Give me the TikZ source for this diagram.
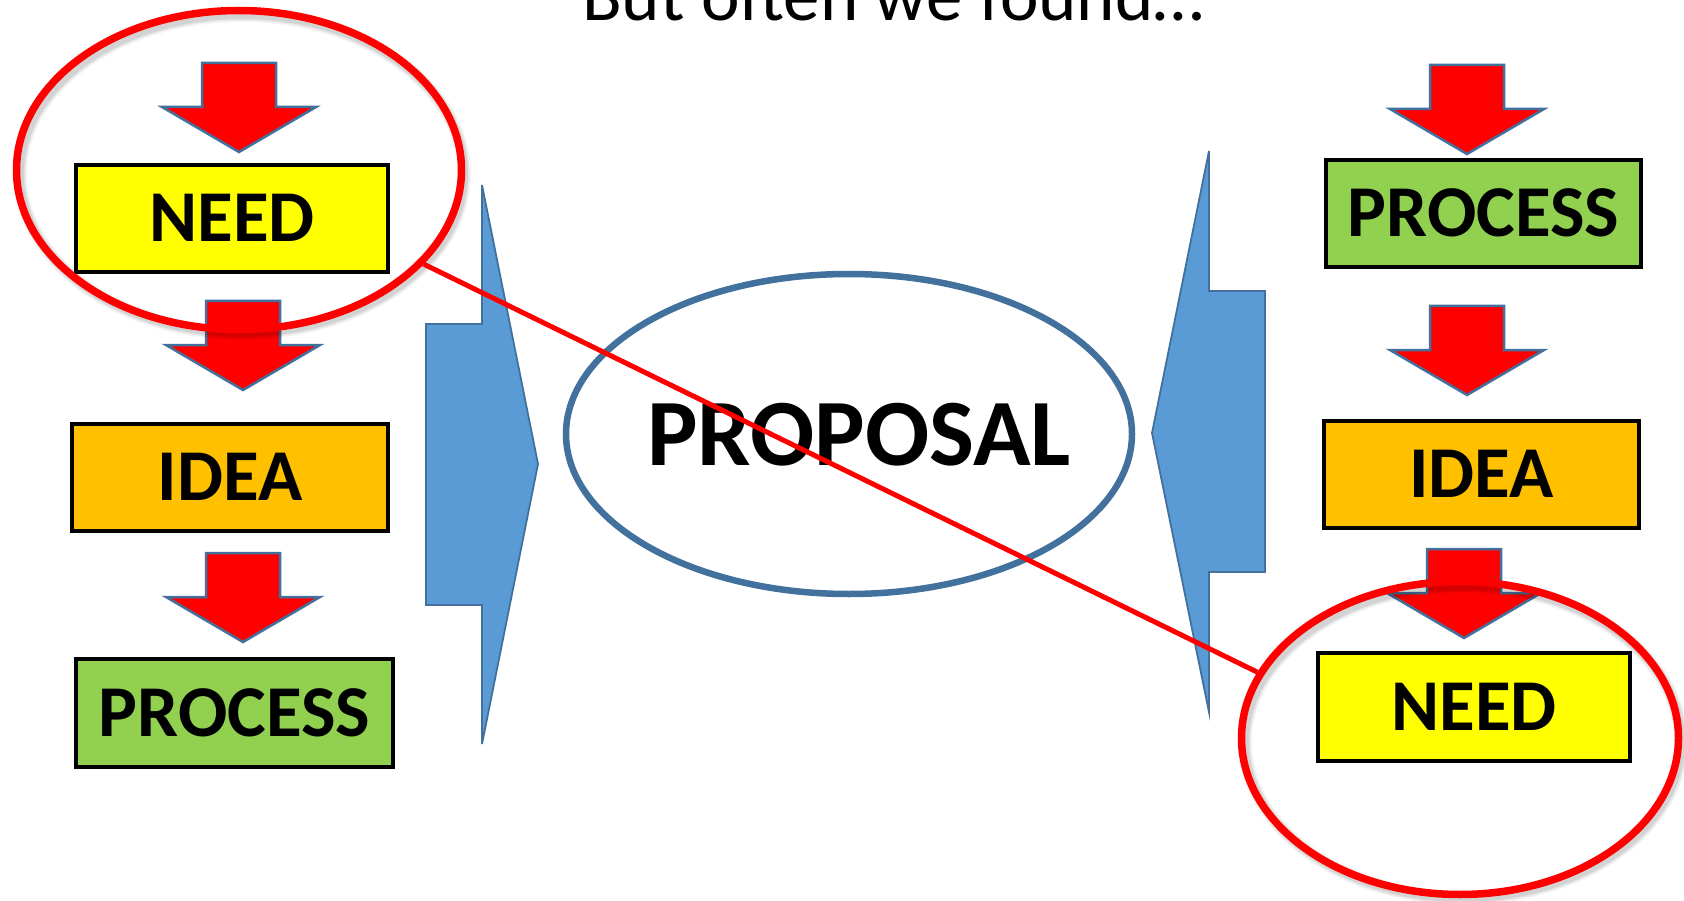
\documentclass[tikz,border=0pt]{standalone}
\usepackage{fontspec}
\setmainfont{Carlito}
\usetikzlibrary{shapes.geometric}
\definecolor{redA}{HTML}{FF0000}
\definecolor{outlineBlue}{HTML}{41719C}
\definecolor{fillBlue}{HTML}{5B9BD5}
\definecolor{yellowA}{HTML}{FFFF00}
\definecolor{orangeA}{HTML}{FFC000}
\definecolor{greenA}{HTML}{92D050}
\begin{document}
\begin{tikzpicture}[x=1pt,y=-1pt,
  labelbox/.style={draw=black, line width=4pt, rectangle, inner sep=0pt,
    font=\fontsize{73}{80}\selectfont\bfseries, text height=46pt, text depth=0pt},
  blockarrow/.style={fill=fillBlue, draw=outlineBlue, line width=1.8pt, line join=miter},
  redarrow/.style={fill=redA, draw=outlineBlue, line width=2.5pt, line join=miter},
  ring/.style={ellipse, draw=redA, line width=7.5pt, inner sep=0pt},
  ringshadow/.style={ellipse, draw=black, inner sep=0pt},
  downarr/.pic={\path[redarrow] (-37,0) -- (37,0) -- (37,44) -- (77,44) -- (0,89) -- (-77,44) -- (-37,44) -- cycle;}
]
\clip (0,0) rectangle (1684,901);
\fill[white] (0,0) rectangle (1684,901);

% title
\node[anchor=base, inner sep=0pt, font=\fontsize{73}{80}\selectfont] (title) at (893,21) {But often we found…};

% blue block arrows
\path[blockarrow] (426,324) -- (482,324) -- (482,185) -- (538,464) -- (482,744) -- (482,605) -- (426,605) -- cycle;
\path[blockarrow] (1265,291) -- (1209,291) -- (1209,151) -- (1152,433) -- (1209,712) -- (1209,572) -- (1265,572) -- cycle;

% proposal
\node[ellipse, draw=outlineBlue, line width=6.5pt, minimum width=566pt, minimum height=320pt, inner sep=0pt] (prop) at (849,434) {};
\node[inner sep=0pt, font=\fontsize{95}{100}\selectfont\bfseries, text height=60pt, text depth=0pt] (proptext) at (859,435) {PROPOSAL};

% left column
\pic at (239,63) {downarr};
\node[labelbox, fill=yellowA, minimum width=312pt, minimum height=107pt] (needL) at (232,218.5) {NEED};
\pic at (243,301) {downarr};
\node[labelbox, fill=orangeA, minimum width=316pt, minimum height=107pt] (ideaL) at (230,477.5) {IDEA};
\pic at (243,553) {downarr};
\node[labelbox, fill=greenA, minimum width=317pt, minimum height=108pt] (procL) at (234.5,713) {PROCESS};

% right column
\pic at (1467,65) {downarr};
\node[labelbox, fill=greenA, minimum width=315pt, minimum height=107pt] (procR) at (1483.5,213.5) {PROCESS};
\pic at (1467,306) {downarr};
\node[labelbox, fill=orangeA, minimum width=315pt, minimum height=107pt] (ideaR) at (1481.5,474.5) {IDEA};
\pic at (1464,549) {downarr};
\node[labelbox, fill=yellowA, minimum width=312pt, minimum height=108pt] (needR) at (1474,707) {NEED};

% soft shadows of the red rings
\foreach \w/\o in {14/0.04, 11/0.06, 8/0.08} {
  \node[ringshadow, line width=\w pt, draw opacity=\o, minimum width=444pt, minimum height=318pt] at (242,174) {};
  \node[ringshadow, line width=\w pt, draw opacity=\o, minimum width=436pt, minimum height=312pt] at (1463,742) {};
}

% red rings
\node[ring, minimum width=445pt, minimum height=319pt] (ringL) at (239,170) {};
\node[ring, minimum width=437pt, minimum height=313pt] (ringR) at (1460,738) {};

% crossing line
\draw[redA, line width=5pt] (ringL.-27.5) -- (ringR.162.4);
\end{tikzpicture}
\end{document}
